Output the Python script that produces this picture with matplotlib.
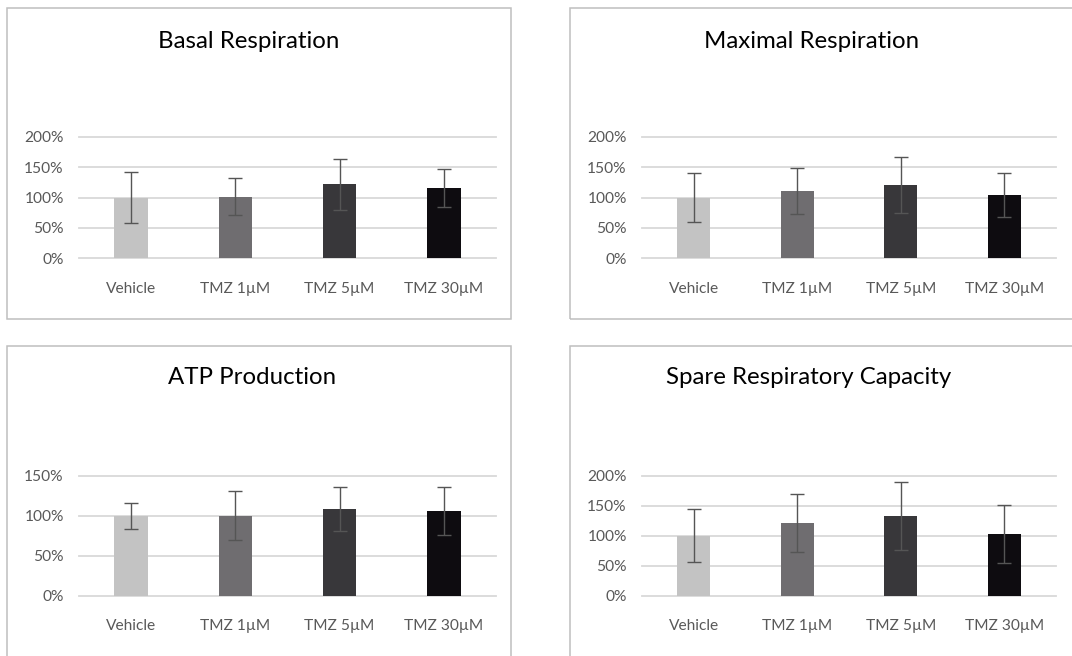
import matplotlib
matplotlib.use("Agg")
import matplotlib.pyplot as plt
from matplotlib.patches import Rectangle
from matplotlib.ticker import FuncFormatter

plt.rcParams['font.family'] = ['Lato', 'DejaVu Sans']

categories = ["Vehicle", "TMZ 1µM", "TMZ 5µM", "TMZ 30µM"]
bar_colors = ["#c3c3c3", "#6f6d70", "#38373a", "#0e0c10"]

titles = ["Basal Respiration", "Maximal Respiration", "ATP Production", "Spare Respiratory Capacity"]

basal_vals = [100, 101, 122, 115]
basal_err = [42, 30.5, 42, 31.5]
maximal_vals = [100, 111, 121, 104]
maximal_err = [41, 38, 46, 37]
atp_vals = [100, 100, 108, 106]
atp_err = [16, 30.5, 27.5, 30.5]
spare_vals = [100, 121, 133, 103]
spare_err = [44, 48, 57, 48]

y_max = [200, 200, 150, 200]
y_step = [50, 50, 50, 50]

values = [basal_vals, maximal_vals, atp_vals, spare_vals]
errors = [basal_err, maximal_err, atp_err, spare_err]

W, H = 1072, 656
fig = plt.figure(figsize=(W / 100, H / 100), dpi=100)

axes_px = [(79, 496, 258, 137), (642, 1056, 258, 137),
           (79, 496, 595.7, 475.7), (642, 1056, 595.7, 475.7)]
box_px = [(7, 8, 511, 319), (570, 8, 1074, 319), (7, 346, 511, 658), (570, 346, 1074, 658)]
title_px = [(249, 41), (812, 41), (252, 378), (809, 378)]

grid_color = "#d9d9d9"
text_color = "#595959"

for i in range(4):
    x0, y0, x1, y1 = box_px[i]
    fig.patches.append(Rectangle((x0 / W, 1 - y1 / H), (x1 - x0) / W, (y1 - y0) / H,
                                 transform=fig.transFigure, fill=False,
                                 edgecolor="#bfbfbf", linewidth=1.1, zorder=0))
    l, r, yb, yt = axes_px[i]
    ax = fig.add_axes([l / W, 1 - yb / H, (r - l) / W, (yb - yt) / H])
    xs = list(range(len(categories)))
    ax.bar(xs, values[i], width=0.32, color=bar_colors, zorder=2)
    ax.errorbar(xs, values[i], yerr=errors[i], fmt="none", ecolor="#555555",
                elinewidth=1.0, capsize=5.3, capthick=1.0, zorder=3)
    ax.set_xlim(-0.5, len(categories) - 0.5)
    ax.set_ylim(0, y_max[i])
    ticks = list(range(0, y_max[i] + 1, y_step[i]))
    ax.set_yticks(ticks)
    ax.yaxis.set_major_formatter(FuncFormatter(lambda v, p: f"{int(v)}%"))
    for t in ticks:
        ax.axhline(t, color=grid_color, linewidth=1.3, zorder=1, clip_on=False)
    ax.set_xticks(xs)
    ax.set_xticklabels(categories)
    for s in ax.spines.values():
        s.set_visible(False)
    ax.tick_params(axis="both", length=0, colors=text_color, labelsize=11.2)
    ax.tick_params(axis="x", pad=17)
    ax.tick_params(axis="y", pad=11)
    tx, ty = title_px[i]
    fig.text(tx / W, 1 - ty / H, titles[i], ha="center", va="center",
             fontsize=17.3, color="#000000")

fig.savefig("out.png", dpi=100, facecolor="white")
